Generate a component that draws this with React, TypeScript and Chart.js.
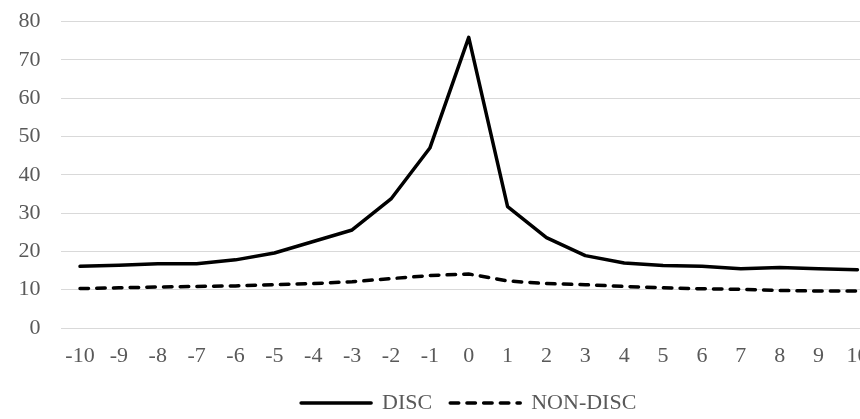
import React, { useEffect, useRef } from "react";
import { Chart, registerables } from "chart.js";

Chart.register(...registerables);

const categories = ["-10", "-9", "-8", "-7", "-6", "-5", "-4", "-3", "-2", "-1", "0", "1", "2", "3", "4", "5", "6", "7", "8", "9", "10"];
const discValues = [16.1, 16.4, 16.8, 16.8, 17.8, 19.6, 22.6, 25.6, 33.7, 47.0, 75.9, 31.7, 23.6, 18.9, 17.0, 16.3, 16.1, 15.5, 15.8, 15.5, 15.2];
const nonDiscValues = [10.3, 10.5, 10.7, 10.85, 11.0, 11.3, 11.6, 12.1, 12.9, 13.7, 14.1, 12.3, 11.6, 11.3, 10.85, 10.5, 10.25, 10.1, 9.8, 9.65, 9.65];
const seriesNames = ["DISC", "NON-DISC"];
const yMin = 0;
const yMax = 80;
const yStep = 10;

const FONT = "'Liberation Serif', 'Times New Roman', serif";
const TEXT = "#595959";

export default function App() {
  const canvasRef = useRef<HTMLCanvasElement | null>(null);

  useEffect(() => {
    const canvas = canvasRef.current;
    if (!canvas) return;
    const chart = new Chart(canvas, {
      type: "line",
      data: {
        labels: categories,
        datasets: [
          {
            label: seriesNames[0],
            data: discValues,
            borderColor: "#000000",
            backgroundColor: "#000000",
            borderWidth: 3.5,
            pointRadius: 0,
            tension: 0,
            borderJoinStyle: "round",
            borderCapStyle: "round",
          },
          {
            label: seriesNames[1],
            data: nonDiscValues,
            borderColor: "#000000",
            backgroundColor: "#000000",
            borderWidth: 3.5,
            borderDash: [8.5, 8.2],
            borderCapStyle: "round",
            pointRadius: 0,
            tension: 0,
          },
        ],
      },
      options: {
        responsive: false,
        animation: false,
        devicePixelRatio: 1,
        layout: { padding: { top: 21.7, left: 0, right: 3.5, bottom: 0 } },
        plugins: {
          tooltip: { enabled: false },
          legend: {
            position: "bottom",
            fullSize: false,
            labels: {
              usePointStyle: true,
              pointStyle: "line",
              pointStyleWidth: 70,
              padding: 18,
              color: TEXT,
              font: { family: FONT, size: 22 },
              generateLabels: (c: any) => {
                const items = Chart.defaults.plugins.legend.labels.generateLabels(c);
                return items.map((it: any) => {
                  const ds: any = c.data.datasets[it.datasetIndex];
                  return {
                    ...it,
                    strokeStyle: ds.borderColor,
                    fillStyle: ds.borderColor,
                    lineWidth: ds.borderWidth,
                    lineDash: ds.borderDash || [],
                    lineCap: ds.borderCapStyle || "butt",
                  };
                });
              },
            },
          },
        },
        scales: {
          x: {
            offset: true,
            grid: { display: false, drawTicks: false },
            border: { display: false },
            ticks: {
              color: TEXT,
              font: { family: FONT, size: 22 },
              padding: 15.5,
              maxRotation: 0,
              autoSkip: false,
            },
            afterFit: (scale: any) => {
              scale.height = 46;
            },
          },
          y: {
            min: yMin,
            max: yMax,
            grid: {
              color: "#d9d9d9",
              lineWidth: 1,
              drawTicks: true,
              tickLength: 20,
              tickColor: "rgba(0,0,0,0)",
            },
            border: { display: false },
            ticks: {
              stepSize: yStep,
              color: TEXT,
              font: { family: FONT, size: 22 },
              padding: 0,
            },
            afterFit: (scale: any) => {
              scale.width = 60.6;
            },
          },
        },
      },
    });
    return () => chart.destroy();
  }, []);

  return (
    <div style={{ position: "fixed", left: 0, top: 0, width: 860, height: 419, overflow: "hidden", background: "#fff" }}>
      <canvas ref={canvasRef} width={884} height={424} style={{ display: "block", width: 884, height: 424 }} />
    </div>
  );
}
